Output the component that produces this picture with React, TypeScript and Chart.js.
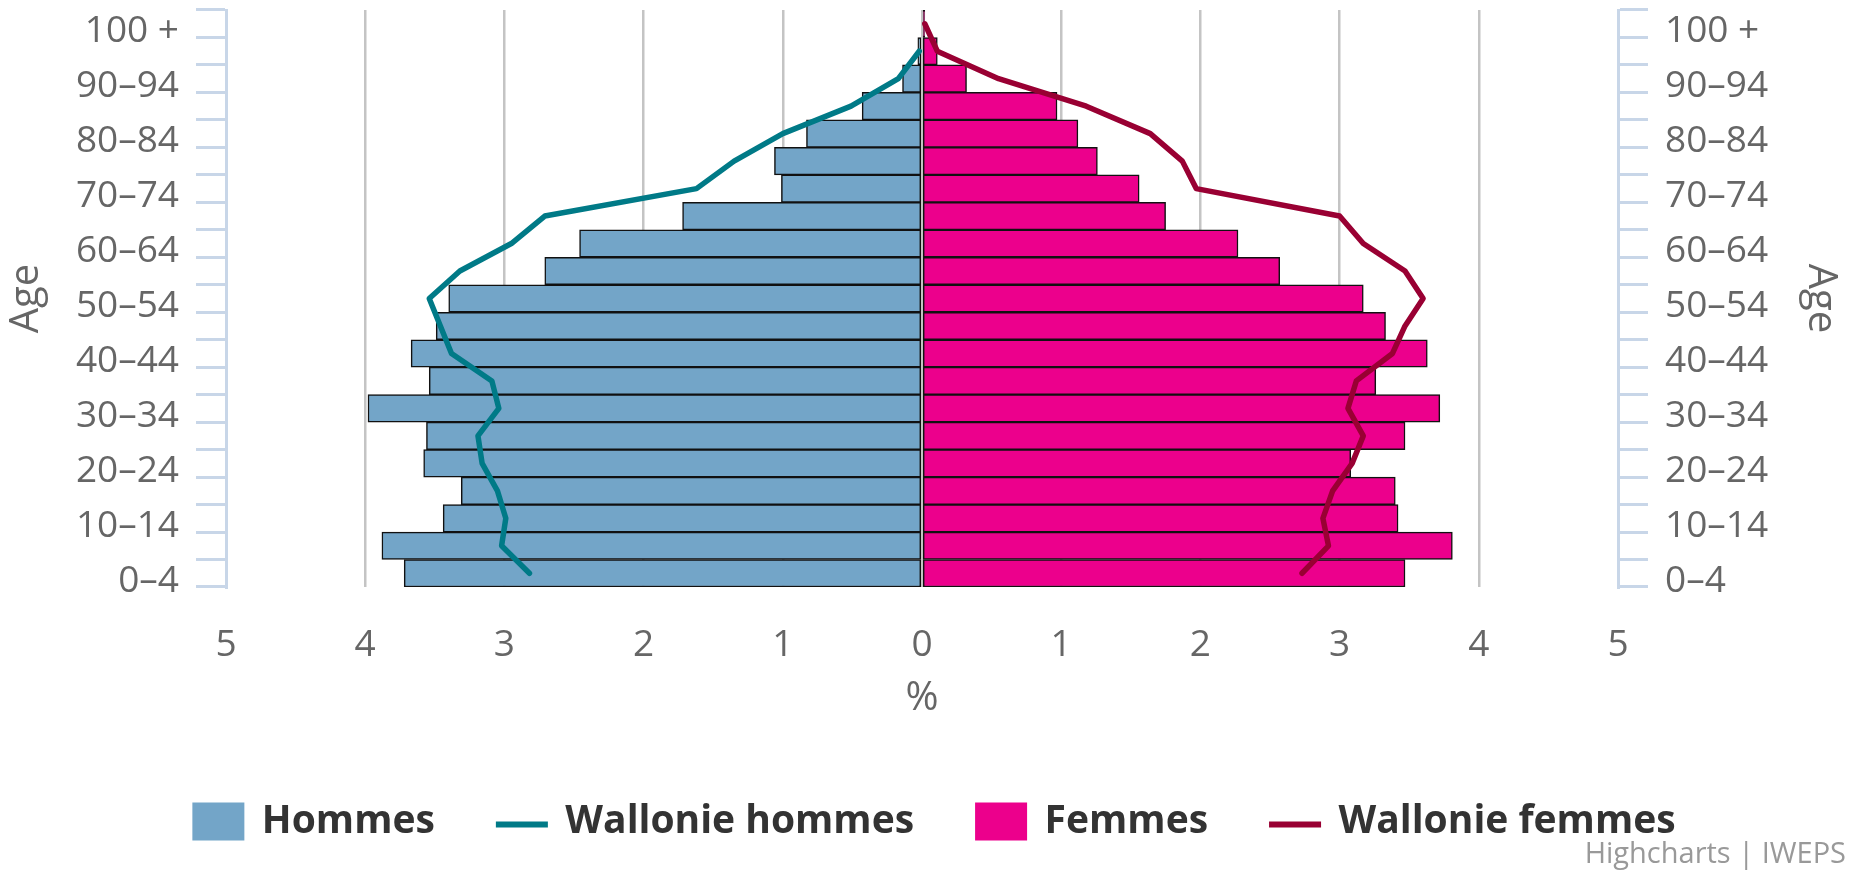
import React, { useEffect, useRef } from 'react';
import { Chart, registerables } from 'chart.js';

Chart.register(...registerables);

const FONT = "'Open Sans', sans-serif";

// Age groups, top (oldest) to bottom (youngest)
const ageGroups = [
  '100 +', '95–99', '90–94', '85–89', '80–84', '75–79', '70–74', '65–69',
  '60–64', '55–59', '50–54', '45–49', '40–44', '35–39', '30–34', '25–29',
  '20–24', '15–19', '10–14', '5–9', '0–4',
];

// % of population (men shown to the left)
const hommes = [
  0, 0.03, 0.14, 0.43, 0.83, 1.06, 1.01, 1.72, 2.46, 2.71, 3.40,
  3.49, 3.67, 3.54, 3.98, 3.56, 3.58, 3.31, 3.44, 3.88, 3.72,
];
const femmes = [
  0.02, 0.11, 0.32, 0.97, 1.12, 1.26, 1.56, 1.75, 2.27, 2.57, 3.17,
  3.33, 3.63, 3.26, 3.72, 3.47, 3.08, 3.40, 3.42, 3.81, 3.47,
];
const wallonieHommes: (number | null)[] = [
  null, 0.02, 0.17, 0.51, 1.00, 1.35, 1.62, 2.71, 2.95, 3.32, 3.54,
  3.46, 3.38, 3.09, 3.04, 3.19, 3.16, 3.05, 2.99, 3.02, 2.82,
];
const wallonieFemmes = [
  0.02, 0.11, 0.55, 1.18, 1.64, 1.87, 1.97, 3.00, 3.17, 3.47, 3.60,
  3.47, 3.38, 3.12, 3.06, 3.17, 3.09, 2.95, 2.88, 2.92, 2.73,
];

const xMin = -5;
const xMax = 5;

const MALE = '#73a5c8';
const FEMALE = '#ec008c';
const TEAL = '#007a87';
const RED = '#990033';
const BORDER = '#111111';
const GRID = '#c4c4c4';
const AXIS_BLUE = '#c8d6e8';
const LABEL = '#666666';

const legendPlugin = {
  id: 'hcLegend',
  afterDraw(chart: any) {
    const ctx = chart.ctx as CanvasRenderingContext2D;
    ctx.save();
    const fontSize = 39;
    ctx.font = `bold ${fontSize}px ${FONT}`;
    const symW = 52;
    const symH = 38;
    const textGap = 17.5;
    const itemGap = 61;
    const items = chart.data.datasets.map((ds: any) => ({
      label: ds.label as string,
      color: (ds.type === 'line' ? ds.borderColor : ds.backgroundColor) as string,
      line: ds.type === 'line',
      w: ctx.measureText(ds.label).width,
    }));
    let total = 0;
    items.forEach((it: any, i: number) => {
      total += symW + textGap + it.w + (i < items.length - 1 ? itemGap : 0);
    });
    const centerX = 934;
    const cy = 821.5;
    let x = centerX - total / 2;
    items.forEach((it: any) => {
      ctx.fillStyle = it.color;
      if (it.line) {
        ctx.fillRect(x, cy, symW, 6);
      } else {
        ctx.fillRect(x, cy - symH / 2, symW, symH);
      }
      ctx.fillStyle = '#333333';
      ctx.textBaseline = 'middle';
      ctx.textAlign = 'left';
      ctx.fillText(it.label, x + symW + textGap, cy);
      x += symW + textGap + it.w + itemGap;
    });
    // credits
    ctx.font = `29px ${FONT}`;
    ctx.fillStyle = '#999999';
    ctx.textAlign = 'right';
    ctx.textBaseline = 'middle';
    ctx.fillText('Highcharts | IWEPS', 1846, 855);
    ctx.restore();
  },
};

export default function App() {
  const ref = useRef<HTMLCanvasElement>(null);
  useEffect(() => {
    const canvas = ref.current;
    if (!canvas) return;
    const tickFont = { family: FONT, size: 37 };
    const titleFont = { family: FONT, size: 40 };
    const yAxisCommon = {
      type: 'category' as const,
      offset: true,
      grid: {
        offset: true,
        drawOnChartArea: false,
        drawTicks: true,
        tickLength: 30,
        color: AXIS_BLUE,
        lineWidth: 3,
      },
      border: { display: true, color: AXIS_BLUE, width: 3 },
      ticks: {
        autoSkip: false,
        color: LABEL,
        font: tickFont,
        padding: 17,
        labelOffset: 8,
        callback: function (this: any, value: any, index: number) {
          return index % 2 === 0 ? ageGroups[index] : '';
        },
      },
    };
    const chart = new Chart(canvas, {
      type: 'bar',
      data: {
        labels: ageGroups,
        datasets: [
          {
            type: 'bar',
            label: 'Hommes',
            data: hommes.map((v) => -v),
            backgroundColor: MALE,
            borderColor: BORDER,
            borderWidth: 1.5,
            borderSkipped: false,
            grouped: false,
            barPercentage: 1,
            categoryPercentage: 1,
            indexAxis: 'y',
            order: 2,
          } as any,
          {
            type: 'line',
            label: 'Wallonie hommes',
            data: wallonieHommes.map((v) => (v === null ? null : -v)),
            borderColor: TEAL,
            backgroundColor: TEAL,
            borderWidth: 5.5,
            borderCapStyle: 'round',
            borderJoinStyle: 'round',
            pointRadius: 0,
            fill: false,
            tension: 0,
            indexAxis: 'y',
            order: 1,
          } as any,
          {
            type: 'bar',
            label: 'Femmes',
            data: femmes,
            backgroundColor: FEMALE,
            borderColor: BORDER,
            borderWidth: 1.5,
            borderSkipped: false,
            grouped: false,
            barPercentage: 1,
            categoryPercentage: 1,
            indexAxis: 'y',
            order: 2,
          } as any,
          {
            type: 'line',
            label: 'Wallonie femmes',
            data: wallonieFemmes,
            borderColor: RED,
            backgroundColor: RED,
            borderWidth: 5.5,
            borderCapStyle: 'round',
            borderJoinStyle: 'round',
            pointRadius: 0,
            fill: false,
            tension: 0,
            indexAxis: 'y',
            order: 0,
          } as any,
        ],
      },
      options: {
        indexAxis: 'y',
        responsive: true,
        maintainAspectRatio: false,
        animation: false,
        layout: { padding: { top: 10, left: 0, right: 0, bottom: 0 } },
        plugins: {
          legend: { display: false },
          tooltip: { enabled: false },
        },
        scales: {
          x: {
            type: 'linear',
            min: xMin,
            max: xMax,
            grid: {
              color: (ctx: any) =>
                ctx.tick && Math.abs(ctx.tick.value) === 5 ? 'rgba(0,0,0,0)' : GRID,
              lineWidth: 2.5,
              drawTicks: false,
            },
            border: { display: false },
            ticks: {
              stepSize: 1,
              color: LABEL,
              font: tickFont,
              padding: 36,
              callback: (v: any) => String(Math.abs(Number(v))),
            },
            title: {
              display: true,
              text: '%',
              color: LABEL,
              font: titleFont,
              padding: { top: 0, bottom: 149 },
            },
            afterFit: (s: any) => {
              s.height = 285;
              s.paddingLeft = 0;
              s.paddingRight = 0;
            },
          },
          y: {
            ...yAxisCommon,
            position: 'left',
            title: {
              display: true,
              text: 'Age',
              color: LABEL,
              font: titleFont,
              padding: { top: 3, bottom: 0 },
            },
            afterFit: (s: any) => {
              s.width = 226;
              s.paddingTop = 0;
              s.paddingBottom = 0;
            },
          } as any,
          y2: {
            ...yAxisCommon,
            labels: ageGroups,
            position: 'right',
            title: {
              display: true,
              text: 'Age',
              color: LABEL,
              font: titleFont,
              padding: { top: 7, bottom: 0 },
            },
            afterFit: (s: any) => {
              s.width = 233;
              s.paddingTop = 0;
              s.paddingBottom = 0;
            },
          } as any,
        },
      },
      plugins: [legendPlugin],
    });
    return () => chart.destroy();
  }, []);
  return (
    <div
      style={{
        position: 'fixed',
        left: 0,
        top: 0,
        width: 1851,
        height: 872,
        background: '#ffffff',
      }}
    >
      <canvas ref={ref} />
    </div>
  );
}
